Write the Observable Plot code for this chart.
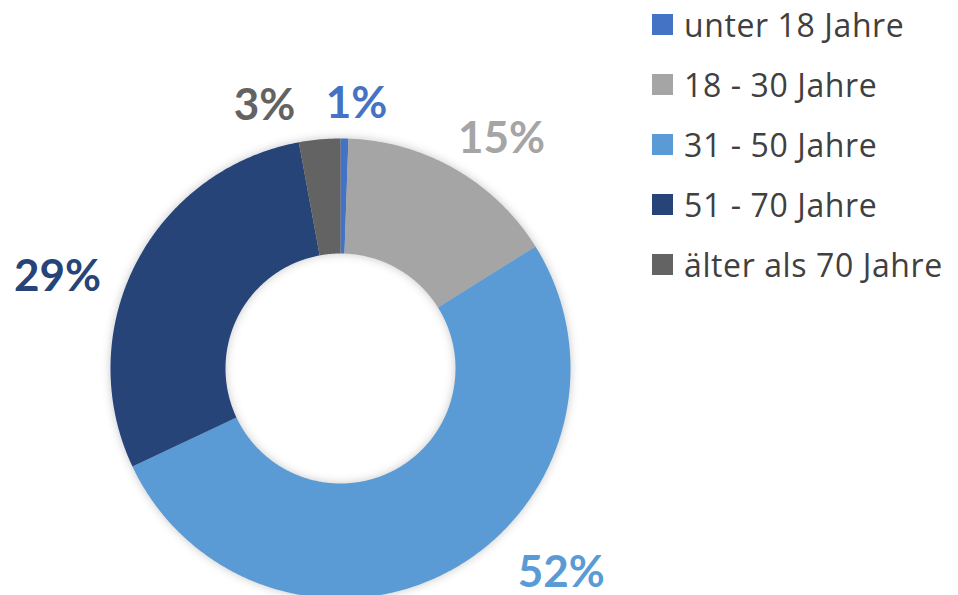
<!DOCTYPE html>
<html><head><meta charset="utf-8">
<script src="https://cdn.jsdelivr.net/npm/d3@7"></script>
<script src="https://cdn.jsdelivr.net/npm/@observablehq/plot@0.6"></script>
<style>
body{margin:0;background:#fff;font-family:"Open Sans",Lato,sans-serif;}
#wrap{position:relative;width:958px;height:595px;overflow:hidden;}
#legend{position:absolute;left:652px;top:0;}
.row{position:absolute;left:0;height:60px;display:flex;align-items:center;white-space:nowrap;font-size:32px;color:#404040;letter-spacing:0.6px;}
.sw{width:21px;height:21px;margin-right:11px;}
</style></head>
<body><div id="wrap"><div id="chart"></div><div id="legend"></div></div>
<script>
const categories = ["unter 18 Jahre", "18 - 30 Jahre", "31 - 50 Jahre", "51 - 70 Jahre", "älter als 70 Jahre"];
const values = [0.55, 15.55, 51.9, 29.1, 2.9];
const labels = ["1%", "15%", "52%", "29%", "3%"];
const colors = ["#4472C4", "#A5A5A5", "#5B9BD5", "#264478", "#636363"];

// layout
const rOuter = 1, rInner = 0.5;
const labelPos = [[0.07, 1.15], [0.70, 1.00], [0.96, -0.89], [-1.23, 0.40], [-0.33, 1.14]];

const total = d3.sum(values);
const slices = [];
let acc = 0;
categories.forEach((c, i) => {
  const a0 = acc / total * 2 * Math.PI;
  acc += values[i];
  const a1 = acc / total * 2 * Math.PI;
  const n = Math.max(2, Math.ceil((a1 - a0) / (Math.PI / 360)));
  const pts = [];
  for (let k = 0; k <= n; k++) { const a = a0 + (a1 - a0) * k / n; pts.push({cat: c, x: rOuter * Math.sin(a), y: rOuter * Math.cos(a)}); }
  for (let k = n; k >= 0; k--) { const a = a0 + (a1 - a0) * k / n; pts.push({cat: c, x: rInner * Math.sin(a), y: rInner * Math.cos(a)}); }
  slices.push(...pts);
});
const labelData = categories.map((c, i) => ({cat: c, label: labels[i], x: labelPos[i][0], y: labelPos[i][1]}));

const plot = Plot.plot({
  width: 958, height: 595, margin: 0,
  x: {domain: [-1, 1], range: [110, 570], axis: null},
  y: {domain: [-1, 1], range: [598, 138], axis: null},
  color: {domain: categories, range: colors},
  marks: [
    Plot.line(slices, {x: "x", y: "y", z: "cat", fill: "cat", stroke: "none", curve: "linear"}),
    Plot.text(labelData, {x: "x", y: "y", text: "label", fill: "cat", fontSize: 44, fontWeight: "bold", fontFamily: "Lato"})
  ]
});
d3.select(plot).select('g[aria-label="line"]').style("filter", "drop-shadow(0px 0px 5px rgba(0,0,0,0.22))");
document.getElementById("chart").appendChild(plot);

const leg = d3.select("#legend");
categories.forEach((c, i) => {
  const row = leg.append("div").attr("class", "row").style("top", (-6 + i * 60) + "px");
  row.append("div").attr("class", "sw").style("background", colors[i]);
  row.append("span").text(c);
});
</script></body></html>
